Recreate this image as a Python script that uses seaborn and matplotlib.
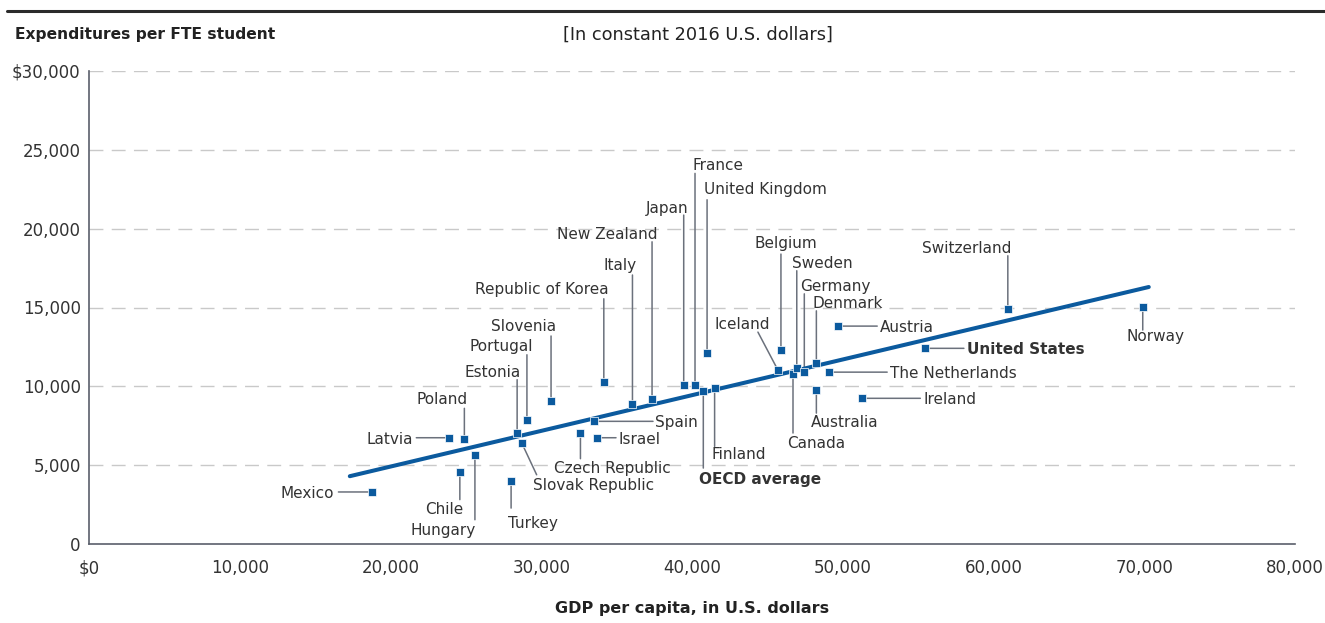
import matplotlib
matplotlib.use("Agg")
import matplotlib.pyplot as plt
from matplotlib.lines import Line2D
import numpy as np
import pandas as pd
import seaborn as sns

# DATA
countries = ["Mexico", "Latvia", "Poland", "Chile", "Hungary", "Estonia",
             "Slovak Republic", "Portugal", "Turkey", "Slovenia", "Czech Republic",
             "Spain", "Israel", "Republic of Korea", "Italy", "New Zealand", "Japan",
             "France", "OECD average", "Finland", "United Kingdom", "Iceland",
             "Belgium", "Canada", "Sweden", "Germany", "Denmark", "Australia",
             "The Netherlands", "Austria", "Ireland", "United States",
             "Switzerland", "Norway"]
gdp = [18800, 23900, 24900, 24600, 25600, 28400,
       28700, 29050, 28000, 30650, 32600,
       33500, 33700, 34150, 36050, 37350, 39450,
       40200, 40750, 41500, 41000, 45700,
       45900, 46700, 46950, 47450, 48250, 48250,
       49100, 49700, 51300, 55450,
       60950, 69900]
spend = [3300, 6740, 6640, 4590, 5660, 7060,
         6420, 7880, 3990, 9070, 7060,
         7780, 6740, 10290, 8880, 9210, 10080,
         10060, 9700, 9870, 12130, 11030,
         12300, 10780, 11180, 10920, 11490, 9760,
         10900, 13820, 9240, 12410,
         14920, 15030]
trend_x = [17300, 70300]
trend_y = [4300, 16300]
bold_labels = ["United States", "OECD average"]

xticks = [0, 10000, 20000, 30000, 40000, 50000, 60000, 70000, 80000]
xtick_labels = ["$0", "10,000", "20,000", "30,000", "40,000", "50,000",
                "60,000", "70,000", "80,000"]
yticks = [0, 5000, 10000, 15000, 20000, 25000, 30000]
ytick_labels = ["0", "5,000", "10,000", "15,000", "20,000", "25,000", "$30,000"]

# LABEL LAYOUT: leader end (dx, dy), text (dx, dy) in pixels, alignments
layout = {
    "Mexico": (-34, 0, -38, 0, "right", "center_baseline"),
    "Latvia": (-33, 0, -36, 0, "right", "center_baseline"),
    "Poland": (0, 31, 3, 35, "right", "baseline"),
    "Chile": (0, -28, 4, -42, "right", "baseline"),
    "Hungary": (0, -65, 1, -80, "right", "baseline"),
    "Estonia": (0, 53, 4, 56, "right", "baseline"),
    "Slovak Republic": (15, -32, 11, -47, "left", "baseline"),
    "Portugal": (0, 65, 6, 69, "right", "baseline"),
    "Turkey": (0, -27, -3, -47, "left", "baseline"),
    "Slovenia": (0, 65, 5, 70, "right", "baseline"),
    "Czech Republic": (0, -26, -26, -40, "left", "baseline"),
    "Spain": (59, 0, 61, 0, "left", "center_baseline"),
    "Israel": (19, 0, 21, 0, "left", "center_baseline"),
    "Republic of Korea": (0, 83, 5, 88, "right", "baseline"),
    "Italy": (0, 129, 4, 134, "right", "baseline"),
    "New Zealand": (0, 157, 5, 160, "right", "baseline"),
    "Japan": (0, 170, 5, 172, "right", "baseline"),
    "France": (0, 212, -3, 215, "left", "baseline"),
    "OECD average": (0, -77, -4, -93, "left", "baseline"),
    "Finland": (0, -58, -3, -71, "left", "baseline"),
    "United Kingdom": (0, 153, -3, 159, "left", "baseline"),
    "Iceland": (-20, 38, -8, 41, "right", "baseline"),
    "Belgium": (0, 96, 5, 102, "center", "baseline"),
    "Canada": (0, -59, -6, -74, "left", "baseline"),
    "Sweden": (0, 97, -5, 100, "left", "baseline"),
    "Germany": (0, 78, -4, 81, "left", "baseline"),
    "Denmark": (0, 52, -4, 55, "left", "baseline"),
    "Australia": (0, -23, -5, -37, "left", "baseline"),
    "The Netherlands": (58, 0, 61, 0, "left", "center_baseline"),
    "Austria": (39, 0, 42, 0, "left", "center_baseline"),
    "Ireland": (58, 0, 61, 0, "left", "center_baseline"),
    "United States": (39, 0, 42, 0, "left", "center_baseline"),
    "Switzerland": (0, 53, 4, 56, "right", "baseline"),
    "Norway": (0, -23, -16, -34, "left", "baseline"),
}

BLUE = "#0b5a9e"
TXT = "#333333"
LEAD = "#6b717c"
SPINE = "#5a5f6b"

sns.set_style("white")
plt.rcParams['font.family'] = ['DejaVu Sans']

df = pd.DataFrame({"country": countries, "gdp": gdp, "spend": spend})
trend = pd.DataFrame({"gdp": trend_x, "spend": trend_y})

fig = plt.figure(figsize=(13.25, 6.23), dpi=100)
ax = fig.add_axes([89/1325, 1-544/623, (1295-89)/1325, (544-71)/623])

#GRID
for yv in yticks[1:]:
    ax.axhline(yv, color="#c9c9c9", lw=1.0, linestyle=(0, (10, 6)), zorder=0)

#TREND + POINTS
sns.lineplot(data=trend, x="gdp", y="spend", color=BLUE, lw=2.9, ax=ax, zorder=4)
sns.scatterplot(data=df, x="gdp", y="spend", marker="s", s=38, color=BLUE,
                edgecolor="white", linewidth=0.5, ax=ax, zorder=5)

#LABELS
for c, x, y in zip(countries, gdp, spend):
    ldx, ldy, tdx, tdy, ha, va = layout[c]
    ax.annotate("", xy=(x, y), xytext=(ldx, ldy), textcoords="offset pixels",
                arrowprops=dict(arrowstyle="-", color=LEAD, lw=1.1,
                                shrinkA=0, shrinkB=0), zorder=3)
    ax.annotate(c, xy=(x, y), xytext=(tdx, tdy), textcoords="offset pixels",
                ha=ha, va=va, fontsize=11, color=TXT,
                fontweight="bold" if c in bold_labels else "normal", zorder=3)

ax.set_xlim(0, 80000)
ax.set_ylim(0, 30000)
ax.set_xticks(xticks)
ax.set_xticklabels(xtick_labels)
ax.set_yticks(yticks)
ax.set_yticklabels(ytick_labels)
ax.tick_params(axis="x", direction="out", length=7, width=1, color=SPINE,
               labelsize=12, labelcolor=TXT, pad=4)
ax.tick_params(axis="y", length=0, labelsize=12, labelcolor=TXT, pad=6)
ax.set_xlabel("")
ax.set_ylabel("")
sns.despine(ax=ax, top=True, right=True)
for s in ["left", "bottom"]:
    ax.spines[s].set_color(SPINE)
    ax.spines[s].set_linewidth(1.2)

#HEADER / FOOTER TEXT
fig.add_artist(Line2D([0.005, 1.0], [1-10.5/623, 1-10.5/623], color="#2b2b2b", lw=2.2))
fig.text(15/1325, 1-35/623, "Expenditures per FTE student", fontsize=11.2,
         fontweight="bold", color="#222222", va="center", ha="left")
fig.text(563/1325, 1-35/623, "[In constant 2016 U.S. dollars]", fontsize=12.8,
         color="#222222", va="center", ha="left")
fig.text(692/1325, 1-609/623, "GDP per capita, in U.S. dollars", fontsize=11.5,
         fontweight="bold", color="#222222", va="center", ha="center")

fig.savefig("out.png", dpi=100)
